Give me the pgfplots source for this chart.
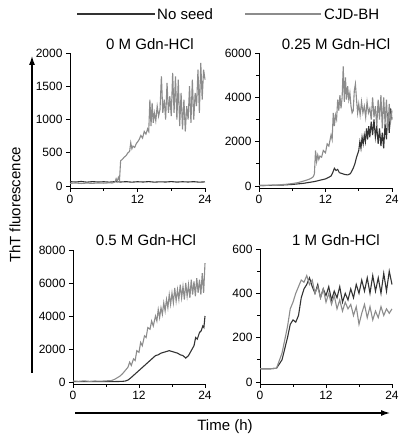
\documentclass[border=0pt]{standalone}
\usepackage{fontspec}
\setmainfont{Liberation Sans}
\usepackage{pgfplots}
\pgfplotsset{compat=1.18}
\usetikzlibrary{arrows.meta}
\definecolor{noseed}{gray}{0.2}
\definecolor{cjd}{gray}{0.55}
\pgfplotsset{
  panel/.style={
    scale only axis,
    anchor=south west,
    axis lines*=left,
    axis line style={black, line width=0.9pt},
    tick style={black, line width=0.9pt},
    tick align=outside,
    major tick length=4pt, minor tick length=3pt,
    xmin=0, xmax=24,
    xtick={0,12,24}, minor xtick={6,18},
    ticklabel style={font=\fontsize{12}{14}\selectfont},
    /pgf/number format/assume math mode=true,
    scaled y ticks=false,
    yticklabel style={/pgf/number format/1000 sep={}},
    clip=false,
  },
  ns/.style={noseed, line width=1.1pt},
  cj/.style={cjd, line width=1.1pt},
}
\begin{document}
\begin{tikzpicture}
\useasboundingbox (0,0) rectangle (400pt,434pt);

% legend
\draw[noseed, line width=1.2pt] (77pt,420pt) -- (155pt,420pt);
\node[anchor=west, inner sep=0pt, font=\fontsize{15}{17}\selectfont] at (157pt,420pt) {No seed};
\draw[cjd, line width=1.2pt] (245pt,420pt) -- (321pt,420pt);
\node[anchor=west, inner sep=0pt, font=\fontsize{15}{17}\selectfont] at (324pt,420pt) {CJD-BH};

% panel titles
\node[font=\fontsize{15}{17}\selectfont] at (150pt,390pt) {0 M Gdn-HCl};
\node[font=\fontsize{15}{17}\selectfont] at (336pt,390pt) {0.25 M Gdn-HCl};
\node[font=\fontsize{15}{17}\selectfont] at (146pt,194pt) {0.5 M Gdn-HCl};
\node[font=\fontsize{15}{17}\selectfont] at (336pt,194pt) {1 M Gdn-HCl};

% shared axis arrows
\draw[line width=1.2pt, -{Latex[length=9pt,width=6pt]}] (32pt,61pt) -- (32pt,378pt);
\node[rotate=90, font=\fontsize{15}{17}\selectfont] at (15pt,229pt) {ThT fluorescence};
\draw[line width=1.2pt, -{Latex[length=9pt,width=6pt]}] (75pt,21pt) -- (390pt,21pt);
\node[font=\fontsize{15}{17}\selectfont] at (225pt,7pt) {Time (h)};

% 0 M
\begin{axis}[panel, at={(70pt,246pt)}, width=135pt, height=135pt,
  ymin=-30, ymax=2000, ytick={0,500,1000,1500,2000}]
\addplot[ns] coordinates {(0,65) (1,60) (2,68) (3,58) (4,66) (5,60) (6,64) (7,58) (8,66) (9,60) (10,65) (11,58) (12,64) (13,60) (14,66) (15,58) (16,63) (17,60) (18,66) (19,59) (20,64) (21,60) (22,65) (23,58) (24,62)};
\addplot[cj] coordinates {(0,40) (1,45) (2,38) (3,44) (4,40) (5,46) (6,42) (7,48) (7.5,45) (8,60) (8.2,110) (8.4,70) (8.6,130) (8.8,90) (9,380) (9.3,400) (9.6,430) (10,460) (10.3,500) (10.6,520) (10.8,650) (11,560) (11.2,600) (11.5,580) (11.8,640) (12,660) (12.3,700) (12.6,760) (12.9,720) (13.2,820) (13.5,780) (13.8,860) (14,820) (14.2,1300) (14.4,900) (14.6,1250) (14.8,950) (15,1100) (15.25,980) (15.5,1200) (15.75,1050) (16,1150) (16.25,1650) (16.5,1100) (16.75,1300) (17,1000) (17.25,1550) (17.5,1100) (17.75,1350) (18,1050) (18.25,1700) (18.5,1100) (18.75,1650) (19,1000) (19.25,1600) (19.5,900) (19.75,1400) (20,850) (20.25,1300) (20.5,820) (20.75,1200) (21,1000) (21.25,1500) (21.5,950) (21.75,1600) (22,1000) (22.25,1400) (22.5,1200) (22.75,1750) (23,1100) (23.25,1850) (23.5,1300) (23.75,1750) (24,1600)};
\end{axis}

% 0.25 M
\begin{axis}[panel, at={(259pt,246pt)}, width=133pt, height=135pt,
  ymin=-90, ymax=6000, ytick={0,2000,4000,6000}, minor ytick={1000,3000,5000}]
\addplot[ns] coordinates {(0,20) (2,30) (4,40) (6,70) (8,120) (9,160) (10,200) (11,260) (12,320) (12.5,380) (13,450) (13.3,600) (13.6,800) (13.9,700) (14.2,750) (14.5,600) (15,560) (15.5,520) (16,500) (16.5,560) (17,800) (17.3,1000) (17.6,1300) (18,1600) (18.2,2000) (18.4,1700) (18.6,2200) (18.8,1900) (19,2300) (19.2,2000) (19.4,2600) (19.6,2100) (19.8,2700) (20,2200) (20.25,2900) (20.5,2300) (20.75,3000) (21,2200) (21.25,2700) (21.5,1900) (21.75,2600) (22,1800) (22.25,2400) (22.5,1700) (22.75,2800) (23,2100) (23.25,3300) (23.5,2400) (23.75,3500) (24,3000)};
\addplot[cj] coordinates {(0,30) (1,20) (2,40) (3,30) (4,60) (5,80) (6,110) (7,150) (8,220) (8.5,260) (9,300) (9.5,360) (9.8,420) (10,550) (10.2,1600) (10.4,1100) (10.6,1400) (10.8,1200) (11,1350) (11.3,1300) (11.6,1600) (12,1500) (12.3,1900) (12.6,1800) (13,2300) (13.2,2100) (13.4,3300) (13.6,2700) (13.8,3200) (14,3000) (14.2,3900) (14.4,3400) (14.6,4100) (14.8,3500) (15,4000) (15.2,5400) (15.4,3800) (15.6,4900) (15.8,3900) (16,4500) (16.2,3900) (16.4,4200) (16.6,3600) (16.8,3300) (17,3400) (17.2,4300) (17.4,4600) (17.6,3900) (17.8,3300) (18,3700) (18.25,3200) (18.5,3800) (18.75,3300) (19,3600) (19.25,3100) (19.5,3800) (19.75,3300) (20,3500) (20.25,3000) (20.5,4000) (20.75,3100) (21,3600) (21.25,2700) (21.5,3900) (21.75,3000) (22,4100) (22.25,2600) (22.5,4000) (22.75,2800) (23,3900) (23.25,2500) (23.5,3700) (23.75,2900) (24,3400)};
\end{axis}

% 0.5 M
\begin{axis}[panel, at={(73pt,50pt)}, width=132pt, height=134pt,
  ymin=-120, ymax=8000, ytick={0,2000,4000,6000,8000}]
\addplot[ns] coordinates {(0,30) (2,20) (4,30) (6,20) (8,30) (9,40) (9.5,60) (10,120) (10.5,250) (11,400) (11.5,550) (12,700) (12.5,850) (13,1000) (13.5,1150) (14,1300) (14.5,1450) (15,1600) (15.5,1650) (16,1750) (16.5,1800) (17,1850) (17.5,1900) (18,1850) (18.5,1800) (19,1750) (19.5,1650) (20,1600) (20.5,1450) (21,1600) (21.5,1900) (22,2200) (22.3,2700) (22.6,2600) (23,3000) (23.3,3100) (23.6,3400) (23.8,3300) (24,4000)};
\addplot[cj] coordinates {(0,60) (1,40) (2,70) (3,40) (4,60) (5,50) (6,70) (7,90) (7.5,150) (8,250) (8.5,350) (9,500) (9.5,700) (10,900) (10.3,1200) (10.6,1000) (11,1400) (11.3,1300) (11.6,1900) (12,1800) (12.3,2400) (12.6,2200) (13,2800) (13.3,2700) (13.6,3300) (14,3200) (14.3,3700) (14.6,3400) (15,4000) (15.25,3700) (15.5,4400) (15.75,3900) (16,4500) (16.25,4100) (16.5,4800) (16.75,4300) (17,5000) (17.25,4500) (17.5,5300) (17.75,4700) (18,5400) (18.25,4800) (18.5,5700) (18.75,4900) (19,5600) (19.25,5000) (19.5,5900) (19.75,5100) (20,5800) (20.25,5000) (20.5,6000) (20.75,5200) (21,5900) (21.25,5100) (21.5,6200) (21.75,5300) (22,6100) (22.25,5200) (22.5,6300) (22.75,5400) (23,6200) (23.25,5300) (23.5,6600) (23.75,5400) (24,7200)};
\end{axis}

% 1 M
\begin{axis}[panel, at={(260pt,50pt)}, width=132pt, height=135pt,
  ymin=-9, ymax=600, ytick={0,200,400,600}, minor ytick={100,300,500}]
\addplot[ns] coordinates {(0,60) (1,60) (2,60) (3,62) (4,100) (5,200) (5.5,260) (6,280) (6.5,270) (7,300) (7.5,380) (8,420) (8.5,440) (9,470) (9.5,430) (10,400) (10.5,440) (11,380) (11.5,420) (12,390) (12.5,430) (13,370) (13.5,410) (14,380) (14.5,430) (15,360) (15.5,400) (16,370) (16.5,420) (17,380) (17.5,440) (18,400) (18.5,460) (19,410) (19.5,470) (20,400) (20.5,480) (21,410) (21.5,470) (22,400) (22.5,490) (23,410) (23.5,500) (24,440)};
\addplot[cj] coordinates {(0,60) (1,60) (2,60) (3,62) (4,130) (5,250) (5.5,330) (6,360) (6.5,400) (7,430) (7.5,460) (8,450) (8.5,480) (9,440) (9.5,460) (10,400) (10.5,430) (11,380) (11.5,420) (12,360) (12.5,400) (13,350) (13.5,390) (14,330) (14.5,370) (15,320) (15.5,360) (16,330) (16.5,350) (17,300) (17.5,340) (18,260) (18.5,310) (19,350) (19.5,290) (20,340) (20.5,280) (21,320) (21.5,290) (22,340) (22.5,300) (23,330) (23.5,310) (24,330)};
\end{axis}
\end{tikzpicture}
\end{document}
